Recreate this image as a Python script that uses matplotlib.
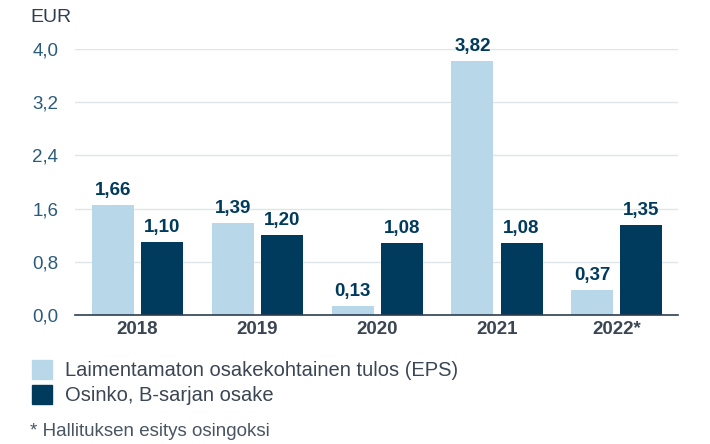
import numpy as np
import matplotlib.pyplot as plt
from matplotlib.patches import Rectangle

plt.rcParams['font.family'] = ['Liberation Sans', 'DejaVu Sans']

# Data
years = ['2018', '2019', '2020', '2021', '2022*']
eps = [1.66, 1.39, 0.13, 3.82, 0.37]
dividend = [1.10, 1.20, 1.08, 1.08, 1.35]
yticks = [0.0, 0.8, 1.6, 2.4, 3.2, 4.0]

light = '#b8d8e9'
dark = '#003a5c'
tick_col = '#2a5b7c'
text_col = '#3b4654'

fig = plt.figure(figsize=(7.1, 4.44), dpi=100)
ax = fig.add_axes([75 / 710, 1 - 315 / 444, 603 / 710, 266 / 444])

x = np.arange(len(years))
w = 0.35
off = 0.205
b1 = ax.bar(x - off, eps, w, color=light)
b2 = ax.bar(x + off, dividend, w, color=dark)

for bars, vals in [(b1, eps), (b2, dividend)]:
    for b, v in zip(bars, vals):
        ax.text(b.get_x() + b.get_width() / 2, v + 0.09, f'{v:.2f}'.replace('.', ','),
                ha='center', va='bottom', fontsize=13.5, fontweight='bold',
                color=dark, clip_on=False)

ax.set_xlim(-0.52, 4.51)
ax.set_ylim(0, 4.0)
ax.set_yticks(yticks)
ax.set_yticklabels([f'{t:.1f}'.replace('.', ',') for t in yticks],
                   fontsize=13.5, color=tick_col)
ax.set_xticks(x)
ax.set_xticklabels(years, fontsize=13.5, fontweight='bold', color=text_col)
ax.tick_params(axis='y', length=0, pad=12)
ax.tick_params(axis='x', length=0, pad=4)
ax.grid(axis='y', color='#dfe6e9', linewidth=1)
ax.set_axisbelow(True)
for s in ['top', 'right', 'left']:
    ax.spines[s].set_visible(False)
ax.spines['bottom'].set_color('#2d3e50')
ax.spines['bottom'].set_linewidth(1.2)

fig.text(30 / 710, 1 - 18 / 444, 'EUR', fontsize=14, color='#2d3e50', va='center')

# Legend
for i, (c, lab) in enumerate([(light, 'Laimentamaton osakekohtainen tulos (EPS)'),
                              (dark, 'Osinko, B-sarjan osake')]):
    y0 = 360 + i * 25
    fig.patches.append(Rectangle((32 / 710, 1 - (y0 + 19) / 444), 20 / 710, 19 / 444,
                                 transform=fig.transFigure, color=c))
    fig.text(65 / 710, 1 - (y0 + 10) / 444, lab, fontsize=14.5, color=text_col, va='center')

fig.text(30 / 710, 1 - 431 / 444, '* Hallituksen esitys osingoksi', fontsize=13.5,
         color='#4a5562', va='center')

fig.savefig('out.png', dpi=100)
